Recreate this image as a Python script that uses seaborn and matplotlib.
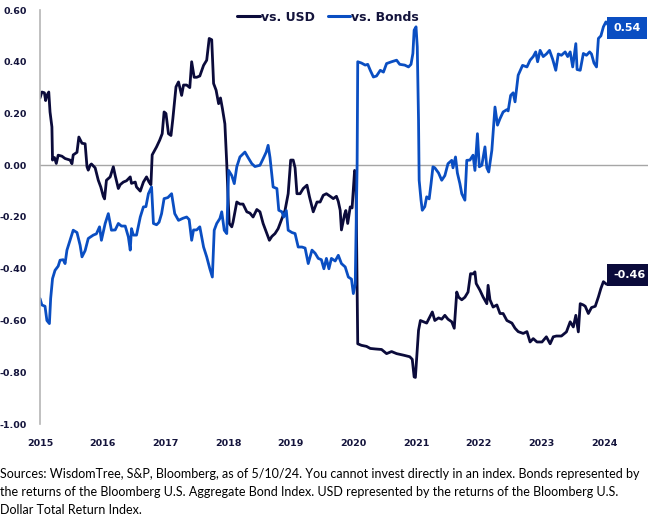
import numpy as np
import pandas as pd
import matplotlib
matplotlib.use("Agg")
import matplotlib.pyplot as plt
import seaborn as sns

# ---------------- data ----------------
usd_t = [2015.00, 2015.03, 2015.07, 2015.09, 2015.11, 2015.14, 2015.16, 2015.19, 2015.20, 2015.23,
         2015.26, 2015.29, 2015.35, 2015.40, 2015.48, 2015.51, 2015.53, 2015.59, 2015.62, 2015.67,
         2015.72, 2015.75, 2015.77, 2015.80, 2015.82, 2015.88, 2015.93, 2015.97, 2016.01, 2016.03,
         2016.06, 2016.12, 2016.17, 2016.20, 2016.25, 2016.28, 2016.33, 2016.38, 2016.44, 2016.46,
         2016.52, 2016.54, 2016.60, 2016.65, 2016.70, 2016.74, 2016.77, 2016.79, 2016.86, 2016.91,
         2016.95, 2016.98, 2017.01, 2017.05, 2017.09, 2017.12, 2017.17, 2017.21, 2017.26, 2017.29,
         2017.34, 2017.39, 2017.42, 2017.46, 2017.50, 2017.55, 2017.61, 2017.66, 2017.70, 2017.74,
         2017.77, 2017.81, 2017.85, 2017.88, 2017.91, 2017.95, 2017.98, 2018.00, 2018.02, 2018.06,
         2018.08, 2018.14, 2018.19, 2018.24, 2018.30, 2018.35, 2018.40, 2018.46, 2018.51, 2018.56,
         2018.62, 2018.66, 2018.70, 2018.75, 2018.80, 2018.86, 2018.91, 2018.96, 2019.00, 2019.04,
         2019.07, 2019.10, 2019.15, 2019.20, 2019.26, 2019.30, 2019.34, 2019.36, 2019.42, 2019.47,
         2019.52, 2019.57, 2019.63, 2019.68, 2019.73, 2019.76, 2019.79, 2019.81, 2019.86, 2019.88,
         2019.91, 2019.95, 2019.98, 2020.02, 2020.04, 2020.07, 2020.13, 2020.21, 2020.27, 2020.35,
         2020.45, 2020.53, 2020.61, 2020.69, 2020.80, 2020.90, 2020.94, 2020.97, 2020.99, 2021.04,
         2021.07, 2021.12, 2021.17, 2021.22, 2021.26, 2021.30, 2021.36, 2021.41, 2021.46, 2021.51,
         2021.57, 2021.61, 2021.65, 2021.68, 2021.73, 2021.78, 2021.83, 2021.87, 2021.91, 2021.94,
         2021.96, 2022.02, 2022.07, 2022.13, 2022.15, 2022.18, 2022.23, 2022.29, 2022.34, 2022.39,
         2022.45, 2022.53, 2022.58, 2022.63, 2022.71, 2022.77, 2022.82, 2022.87, 2022.93, 2023.01,
         2023.08, 2023.14, 2023.19, 2023.24, 2023.32, 2023.40, 2023.46, 2023.51, 2023.55, 2023.59,
         2023.62, 2023.67, 2023.70, 2023.75, 2023.80, 2023.86, 2023.91, 2023.95, 2023.99, 2024.04,
         2024.07]
usd_v = [0.26, 0.283, 0.28, 0.25, 0.27, 0.283, 0.206, 0.148, 0.02, 0.03,
         0.007, 0.039, 0.035, 0.026, 0.02, 0.006, 0.04, 0.05, 0.109, 0.085,
         0.083, -0.006, -0.019, 0.0, 0.005, -0.01, -0.058, -0.084, -0.12, -0.13,
         -0.058, -0.045, -0.006, -0.04, -0.09, -0.075, -0.065, -0.06, -0.045, -0.07,
         -0.065, -0.084, -0.10, -0.065, -0.045, -0.065, -0.075, 0.04, 0.071, 0.097,
         0.122, 0.206, 0.2, 0.122, 0.115, 0.18, 0.303, 0.322, 0.27, 0.31,
         0.31, 0.30, 0.40, 0.34, 0.34, 0.345, 0.386, 0.406, 0.49, 0.485,
         0.316, 0.29, 0.238, 0.26, 0.22, 0.16, 0.006, -0.12, -0.225, -0.238,
         -0.22, -0.142, -0.15, -0.15, -0.18, -0.185, -0.2, -0.171, -0.18, -0.225,
         -0.264, -0.29, -0.275, -0.264, -0.245, -0.206, -0.174, -0.11, 0.02, 0.02,
         -0.01, -0.11, -0.11, -0.09, -0.077, -0.122, -0.161, -0.18, -0.142, -0.142,
         -0.116, -0.11, -0.12, -0.129, -0.12, -0.14, -0.174, -0.25, -0.19, -0.175,
         -0.225, -0.161, -0.165, -0.02, -0.03, -0.69, -0.696, -0.70, -0.708, -0.71,
         -0.712, -0.728, -0.72, -0.728, -0.734, -0.74, -0.75, -0.818, -0.82, -0.638,
         -0.60, -0.605, -0.61, -0.586, -0.567, -0.60, -0.59, -0.595, -0.58, -0.595,
         -0.605, -0.63, -0.49, -0.51, -0.52, -0.51, -0.49, -0.419, -0.42, -0.412,
         -0.457, -0.483, -0.509, -0.535, -0.464, -0.52, -0.548, -0.54, -0.573, -0.573,
         -0.60, -0.61, -0.63, -0.643, -0.65, -0.643, -0.683, -0.67, -0.683, -0.683,
         -0.663, -0.69, -0.663, -0.66, -0.66, -0.644, -0.605, -0.625, -0.58, -0.644,
         -0.535, -0.54, -0.545, -0.573, -0.55, -0.545, -0.509, -0.476, -0.45, -0.46,
         -0.46]

bond_t = [2015.00, 2015.03, 2015.08, 2015.11, 2015.15, 2015.17, 2015.20, 2015.24, 2015.29, 2015.32,
          2015.37, 2015.40, 2015.43, 2015.48, 2015.53, 2015.59, 2015.64, 2015.67, 2015.72, 2015.77,
          2015.85, 2015.90, 2015.95, 2015.98, 2016.04, 2016.09, 2016.14, 2016.20, 2016.25, 2016.30,
          2016.36, 2016.41, 2016.44, 2016.46, 2016.49, 2016.54, 2016.60, 2016.65, 2016.69, 2016.73,
          2016.78, 2016.81, 2016.86, 2016.90, 2016.94, 2016.98, 2017.04, 2017.10, 2017.15, 2017.21,
          2017.28, 2017.34, 2017.38, 2017.42, 2017.45, 2017.50, 2017.55, 2017.61, 2017.66, 2017.71,
          2017.75, 2017.78, 2017.82, 2017.87, 2017.90, 2017.94, 2017.98, 2018.01, 2018.06, 2018.10,
          2018.14, 2018.19, 2018.27, 2018.32, 2018.38, 2018.43, 2018.51, 2018.56, 2018.61, 2018.64,
          2018.67, 2018.72, 2018.78, 2018.81, 2018.86, 2018.89, 2018.93, 2018.96, 2019.02, 2019.07,
          2019.12, 2019.18, 2019.23, 2019.28, 2019.34, 2019.39, 2019.44, 2019.49, 2019.53, 2019.57,
          2019.61, 2019.65, 2019.71, 2019.76, 2019.81, 2019.87, 2019.92, 2019.97, 2020.00, 2020.03,
          2020.06, 2020.07, 2020.13, 2020.19, 2020.23, 2020.27, 2020.32, 2020.37, 2020.43, 2020.48,
          2020.53, 2020.61, 2020.69, 2020.74, 2020.82, 2020.88, 2020.92, 2020.95, 2020.97, 2021.00,
          2021.02, 2021.04, 2021.05, 2021.08, 2021.10, 2021.14, 2021.17, 2021.21, 2021.24, 2021.27,
          2021.30, 2021.36, 2021.41, 2021.46, 2021.51, 2021.57, 2021.59, 2021.63, 2021.66, 2021.70,
          2021.73, 2021.78, 2021.81, 2021.86, 2021.91, 2021.94, 2021.98, 2022.01, 2022.05, 2022.10,
          2022.13, 2022.16, 2022.21, 2022.26, 2022.30, 2022.34, 2022.39, 2022.45, 2022.47, 2022.51,
          2022.55, 2022.58, 2022.63, 2022.70, 2022.77, 2022.82, 2022.87, 2022.91, 2022.94, 2022.98,
          2023.03, 2023.08, 2023.13, 2023.18, 2023.23, 2023.27, 2023.32, 2023.38, 2023.42, 2023.46,
          2023.50, 2023.55, 2023.57, 2023.62, 2023.67, 2023.72, 2023.77, 2023.80, 2023.84, 2023.88,
          2023.91, 2023.95, 2023.99, 2024.03, 2024.07]
bond_v = [-0.515, -0.54, -0.545, -0.60, -0.612, -0.515, -0.438, -0.406, -0.39, -0.367,
          -0.365, -0.38, -0.328, -0.29, -0.251, -0.26, -0.309, -0.354, -0.33, -0.283,
          -0.27, -0.265, -0.238, -0.29, -0.225, -0.187, -0.251, -0.25, -0.225, -0.235,
          -0.235, -0.277, -0.328, -0.245, -0.27, -0.27, -0.20, -0.161, -0.16, -0.11,
          -0.084, -0.225, -0.23, -0.22, -0.187, -0.129, -0.125, -0.11, -0.187, -0.213,
          -0.205, -0.20, -0.21, -0.29, -0.25, -0.25, -0.238, -0.316, -0.354, -0.40,
          -0.432, -0.251, -0.225, -0.206, -0.18, -0.251, -0.264, -0.02, -0.04, -0.071,
          -0.006, 0.032, 0.051, 0.03, 0.006, -0.005, 0.0, 0.025, 0.051, 0.077,
          0.03, -0.084, -0.09, -0.174, -0.18, -0.20, -0.175, -0.251, -0.26, -0.264,
          -0.316, -0.316, -0.32, -0.38, -0.328, -0.34, -0.36, -0.365, -0.40, -0.36,
          -0.40, -0.36, -0.37, -0.348, -0.38, -0.393, -0.432, -0.44, -0.496, -0.46,
          0.0, 0.40, 0.395, 0.387, 0.39, 0.367, 0.341, 0.345, 0.367, 0.36,
          0.393, 0.40, 0.406, 0.39, 0.387, 0.38, 0.39, 0.432, 0.522, 0.535,
          0.457, 0.174, -0.058, -0.135, -0.174, -0.16, -0.122, -0.13, -0.071, -0.006,
          -0.01, -0.03, -0.058, -0.04, 0.006, 0.019, -0.01, 0.032, -0.03, -0.071,
          -0.11, -0.135, 0.019, 0.02, 0.039, -0.02, 0.122, -0.006, 0.0, 0.071,
          -0.01, -0.026, 0.058, 0.225, 0.155, 0.18, 0.206, 0.215, 0.21, 0.27,
          0.28, 0.245, 0.348, 0.386, 0.38, 0.406, 0.42, 0.438, 0.40, 0.444,
          0.42, 0.43, 0.444, 0.41, 0.367, 0.43, 0.425, 0.438, 0.42, 0.438,
          0.38, 0.47, 0.37, 0.367, 0.432, 0.425, 0.438, 0.43, 0.395, 0.38,
          0.49, 0.50, 0.535, 0.554, 0.541]

series_names = ["vs. USD", "vs. Bonds"]
last_labels = ["-0.46", "0.54"]
year_ticks = [2015, 2016, 2017, 2018, 2019, 2020, 2021, 2022, 2023, 2024]
y_ticks = [0.60, 0.40, 0.20, 0.00, -0.20, -0.40, -0.60, -0.80, -1.00]
footnote = ("Sources: WisdomTree, S&P, Bloomberg, as of 5/10/24. You cannot invest directly in an index. Bonds represented by\n"
            "the returns of the Bloomberg U.S. Aggregate Bond Index. USD represented by the returns of the Bloomberg U.S.\n"
            "Dollar Total Return Index.")

# ---------------- build table ----------------
df = pd.concat([
    pd.DataFrame({"date": usd_t, "value": usd_v, "series": series_names[0]}),
    pd.DataFrame({"date": bond_t, "value": bond_v, "series": series_names[1]}),
], ignore_index=True)

NAVY = "#0b0b3b"
BLUE = "#0a4ec2"
TICK = "#14143c"
palette = {series_names[0]: NAVY, series_names[1]: BLUE}

sns.set_style("white")
plt.rcParams["font.family"] = ["DejaVu Sans"]

fig = plt.figure(figsize=(6.48, 5.24), dpi=100)
ax = fig.add_axes([40 / 648, 100 / 524, 608 / 648, 414 / 524])

sns.lineplot(data=df, x="date", y="value", hue="series", palette=palette,
             hue_order=series_names, linewidth=2.0, ax=ax, sort=False,
             estimator=None)

ax.set_xlim(2015, 2015 + 608 / 62.67)
ax.set_ylim(-1.0, 0.6)
ax.axhline(0, color="#a6a6a6", linewidth=1.0, zorder=0)

ax.set_xticks(year_ticks)
ax.set_xticklabels([str(y) for y in year_ticks])
ax.set_yticks(y_ticks)
ax.set_yticklabels([f"{v:.2f}" for v in y_ticks])
ax.tick_params(axis="both", length=0, labelsize=6.8, labelcolor=TICK)
ax.tick_params(axis="y", pad=9.5)
ax.tick_params(axis="x", pad=11)
for lbl in ax.get_xticklabels() + ax.get_yticklabels():
    lbl.set_fontweight("bold")
ax.set_xlabel("")
ax.set_ylabel("")

for s in ["top", "right", "bottom"]:
    ax.spines[s].set_visible(False)
ax.spines["left"].set_color("#b5b5b5")
ax.spines["left"].set_linewidth(1.2)
ax.grid(False)

# legend
handles, labels = ax.get_legend_handles_labels()
leg = ax.legend(handles, labels, loc="center", bbox_to_anchor=(0.474, 0.983),
                ncol=2, frameon=False, handlelength=1.8, handletextpad=0.1,
                columnspacing=1.0, fontsize=9)
for t in leg.get_texts():
    t.set_fontweight("bold")
    t.set_color(TICK)
for l in leg.get_lines():
    l.set_linewidth(2.2)

# end labels
ends = [(usd_t[-1], usd_v[-1] + 0.035, last_labels[0], NAVY),
        (bond_t[-1], bond_v[-1] - 0.01, last_labels[1], BLUE)]
for x, y, txt, c in ends:
    ax.annotate(txt, xy=(x, y), xytext=(3.5, 0), textcoords="offset points",
                ha="left", va="center", color="white", fontsize=8,
                fontweight="bold",
                bbox=dict(boxstyle="square,pad=0.55", fc=c, ec="none"))

fig.text(0.0, 1 - 468 / 524, footnote, ha="left", va="top", fontsize=9,
         family=["Lato", "DejaVu Sans"], color="black", linespacing=1.58)

fig.savefig("out.png", dpi=100)
